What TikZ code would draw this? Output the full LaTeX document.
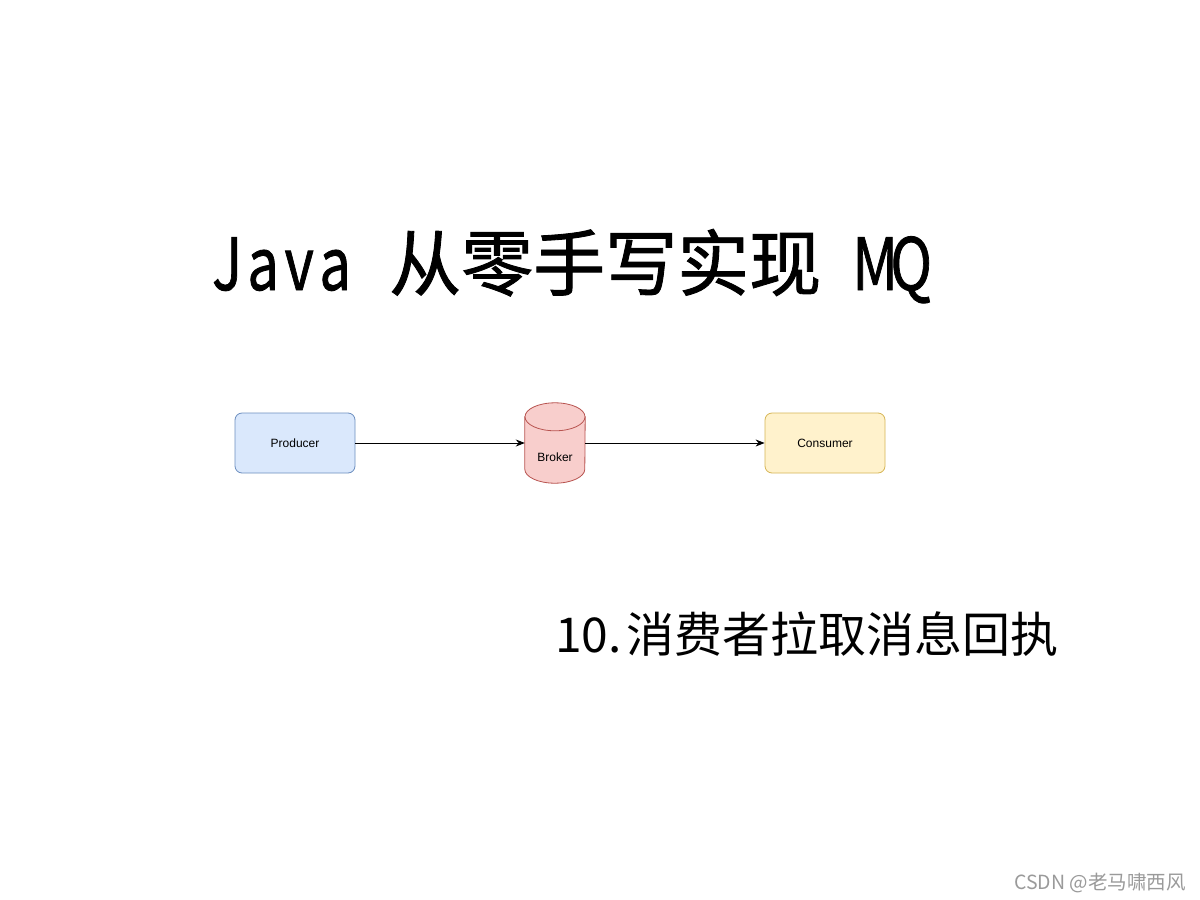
\documentclass[tikz,border=0pt]{standalone}
\usepackage{fontspec}
\setmainfont{Liberation Sans}
\newfontfamily\cjk{Noto Sans CJK SC}
\newfontfamily\cjkt[FakeBold=1.2]{Noto Sans CJK SC}
\usetikzlibrary{arrows.meta}
\definecolor{prodfill}{HTML}{DAE8FC}
\definecolor{prodline}{HTML}{6C8EBF}
\definecolor{brokfill}{HTML}{F8CECC}
\definecolor{brokline}{HTML}{B85450}
\definecolor{consfill}{HTML}{FFF2CC}
\definecolor{consline}{HTML}{D6B656}
\definecolor{wm}{HTML}{9A9A9A}
\newcommand{\hw}[1]{\makebox[0.5em][c]{\scalebox{0.78}[1]{#1}}}
\tikzset{
  proc/.style={rectangle, rounded corners=7pt, minimum width=120pt, minimum height=60pt, inner sep=0pt, line width=0.8pt, font=\fontsize{12}{14}\selectfont},
  txt/.style={inner sep=0pt, anchor=base west},
  conn/.style={line width=1pt, -{Stealth[length=9pt,width=7pt]}}
}
\begin{document}
\begin{tikzpicture}[x=1pt,y=-1pt]
\useasboundingbox[fill=white] (0,0) rectangle (1200,900);
% title
\node[txt] (title) at (209,290) {\cjkt\fontsize{72}{80}\selectfont \hw{J}\hw{a}\hw{v}\hw{a}\hw{ }从零手写实现\hw{ }\hw{M}\hw{Q}};
% nodes
\node[proc, fill=prodfill, draw=prodline] (producer) at (295,443) {Producer};
\node[proc, fill=consfill, draw=consline] (consumer) at (825,443) {Consumer};
\node[rectangle, minimum width=60pt, minimum height=80pt, inner sep=0pt] (broker) at (555,443) {};
\fill[brokfill, draw=brokline, line width=0.8pt]
  ([yshift=-14pt]broker.north west) -- ([yshift=14pt]broker.south west)
  arc[start angle=180, end angle=360, x radius=30pt, y radius=14pt]
  -- ([yshift=-14pt]broker.north east) -- cycle;
\filldraw[fill=brokfill, draw=brokline, line width=0.8pt] ([yshift=-14pt]broker.north) ellipse[x radius=30pt, y radius=14pt];
\node[inner sep=0pt, font=\fontsize{12}{14}\selectfont] (brokerlabel) at (555,457) {Broker};
% connectors
\draw[conn] (producer.east) -- (broker.west);
\draw[conn] (broker.east) -- (consumer.west);
% subtitle
\node[txt] (subtitle) at (555,652) {\cjk\fontsize{48}{56}\selectfont 10.\hspace{5pt}消费者拉取消息回执};
% watermark
\node[txt, text=wm] (wmark) at (1014,889) {\cjk\fontsize{19.5}{22}\selectfont CSDN @老马啸西风};
\end{tikzpicture}
\end{document}
